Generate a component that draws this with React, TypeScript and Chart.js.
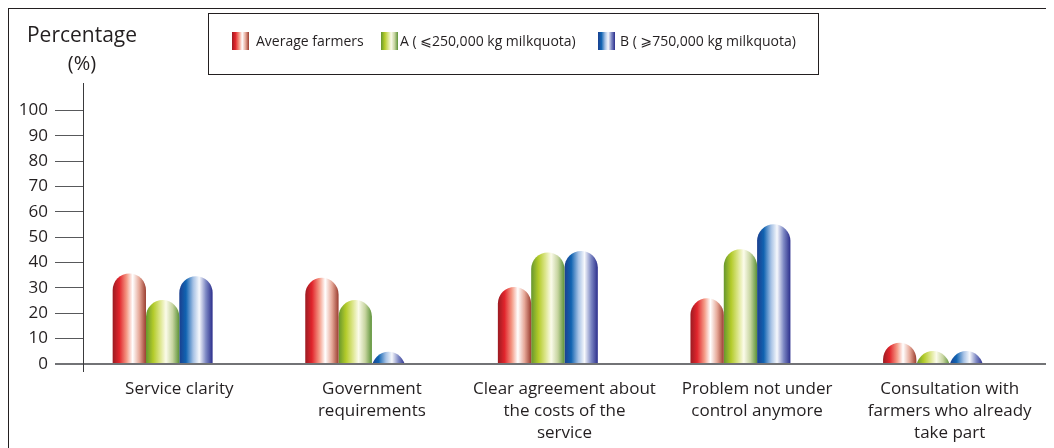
import React, { useEffect, useRef } from 'react';
import { Chart, registerables } from 'chart.js';

Chart.register(...registerables);

// ---- data ----
const categories: string[][] = [
  ['Service clarity'],
  ['Government', 'requirements'],
  ['Clear agreement about', 'the costs of the', 'service'],
  ['Problem not under', 'control anymore'],
  ['Consultation with', 'farmers who already', 'take part'],
];
const seriesNames = ['Average farmers', 'A ( ⩽250,000 kg milkquota)', 'B ( ⩾750,000 kg milkquota)'];
const averageFarmers = [35.7, 34.0, 30.4, 25.9, 8.4];
const groupA = [25.2, 25.2, 44.0, 45.2, 5.1];
const groupB = [34.6, 4.8, 44.6, 55.1, 5.1];
const yTicks = [0, 10, 20, 30, 40, 50, 60, 70, 80, 90, 100];
const yAxisTitle = ['Percentage', '(%)'];

// ---- styling ----
const FONT = '"Open Sans", "DejaVu Sans", sans-serif';
const INK = '#231f20';

type Stops = [number, string][];
const redShade: Stops = [
  [0, '#9b1b22'], [0.2, '#e1252c'], [0.42, '#f49a86'], [0.6, '#ffffff'], [0.8, '#e6a898'], [1, '#9a3d2f'],
];
const greenShade: Stops = [
  [0, '#66962e'], [0.22, '#b3cb2a'], [0.42, '#dbe589'], [0.6, '#fbfbea'], [0.8, '#c6d49f'], [1, '#5c9238'],
];
const blueShade: Stops = [
  [0, '#1b3f8f'], [0.2, '#1063b1'], [0.42, '#a7c2e5'], [0.6, '#f6f8fc'], [0.8, '#7c87c3'], [1, '#2b2e8c'],
];
const shades = [redShade, greenShade, blueShade];

function shadeFill(ctx: CanvasRenderingContext2D, left: number, width: number, stops: Stops) {
  const g = ctx.createLinearGradient(left, 0, left + width, 0);
  stops.forEach(([o, c]) => g.addColorStop(o, c));
  return g;
}

// Bars drawn as shaded cylinders with a round cap, using the element geometry from Chart.js.
const capsuleBars = {
  id: 'capsuleBars',
  beforeDatasetDraw(chart: any, args: any) {
    const stops = shades[args.index];
    if (!stops) return false;
    const ctx: CanvasRenderingContext2D = chart.ctx;
    for (const el of args.meta.data) {
      const { x, y, base, width } = el.getProps(['x', 'y', 'base', 'width'], true);
      if (!Number.isFinite(y) || !Number.isFinite(base)) continue;
      const L = x - width / 2;
      const R = x + width / 2;
      const r = width / 2;
      const top = Math.min(y, base);
      const shoulder = top + r;
      const foot = Math.max(base, shoulder);
      ctx.save();
      ctx.beginPath();
      ctx.rect(L - 1, top - 1, width + 2, base - top + 1);
      ctx.clip();
      ctx.beginPath();
      ctx.moveTo(L, foot);
      ctx.lineTo(L, shoulder);
      ctx.arc(x, shoulder, r, Math.PI, 0);
      ctx.lineTo(R, foot);
      ctx.closePath();
      ctx.fillStyle = shadeFill(ctx, L, width, stops);
      ctx.fill();
      ctx.restore();
    }
    return false;
  },
};

// Vertical axis line, axis title and the boxed legend.
const decorations = {
  id: 'decorations',
  afterDraw(chart: any) {
    const ctx: CanvasRenderingContext2D = chart.ctx;
    const area = chart.chartArea;
    ctx.save();

    // y axis line, running a little past the zero line
    ctx.strokeStyle = '#3a3a3c';
    ctx.lineWidth = 1;
    ctx.beginPath();
    ctx.moveTo(area.left + 0.5, area.top - 2);
    ctx.lineTo(area.left + 0.5, area.bottom + 8);
    ctx.stroke();

    // axis title
    ctx.fillStyle = INK;
    ctx.textAlign = 'center';
    ctx.textBaseline = 'alphabetic';
    ctx.font = `21px ${FONT}`;
    ctx.fillText(yAxisTitle[0], area.left - 1, 33);
    ctx.font = `20px ${FONT}`;
    ctx.fillText(yAxisTitle[1], area.left - 1, 61);

    // legend
    ctx.strokeStyle = INK;
    ctx.lineWidth = 1;
    ctx.strokeRect(199.5, 4.5, 610, 61);
    const swatchX = [223, 372, 589];
    const textX = [247, 391, 611];
    ctx.textAlign = 'left';
    ctx.font = `14px ${FONT}`;
    seriesNames.forEach((name, i) => {
      ctx.fillStyle = shadeFill(ctx, swatchX[i], 17, shades[i]);
      ctx.fillRect(swatchX[i], 23, 17, 18);
      ctx.fillStyle = INK;
      ctx.fillText(name, textX[i], 37);
    });
    ctx.restore();
  },
};

export default function App() {
  const canvasRef = useRef<HTMLCanvasElement | null>(null);

  useEffect(() => {
    const canvas = canvasRef.current;
    if (!canvas) return;
    const series = [averageFarmers, groupA, groupB];
    const chart = new Chart(canvas, {
      type: 'bar',
      data: {
        labels: categories,
        datasets: [
          ...series.map((values, i) => ({
            label: seriesNames[i],
            data: values,
            backgroundColor: shades[i][1][1],
          })),
          // empty slot to the right of each group
          { label: '', data: categories.map(() => null), backgroundColor: 'transparent' },
        ],
      },
      options: {
        responsive: false,
        animation: false,
        events: [],
        datasets: { bar: { barPercentage: 1, categoryPercentage: 0.692 } },
        layout: { padding: { top: 76, right: 8, left: 0, bottom: 0 } },
        plugins: {
          legend: { display: false },
          tooltip: { enabled: false },
          title: { display: false },
        },
        scales: {
          x: {
            grid: { display: false, drawTicks: false },
            border: { display: true, color: '#727376', width: 2 },
            ticks: {
              color: INK,
              font: { family: FONT, size: 17, lineHeight: 1.3 },
              padding: 14,
              maxRotation: 0,
              autoSkip: false,
            },
            afterFit: (s: any) => {
              s.height = 84;
            },
          },
          y: {
            min: 0,
            max: 110,
            afterBuildTicks: (s: any) => {
              s.ticks = yTicks.map((v) => ({ value: v }));
            },
            grid: {
              drawOnChartArea: false,
              tickLength: 28,
              color: (c: any) => (c.tick && c.tick.value === 0 ? '#727376' : '#58595b'),
              lineWidth: (c: any) => (c.tick && c.tick.value === 0 ? 2 : 1),
            },
            border: { display: false },
            ticks: { color: INK, font: { family: FONT, size: 17 }, padding: 7 },
            afterFit: (s: any) => {
              s.width = 74;
            },
          },
        },
      },
      plugins: [capsuleBars, decorations],
    } as any);
    return () => chart.destroy();
  }, []);

  return (
    <div
      style={{
        borderLeft: `2px solid ${INK}`,
        borderTop: `2px solid ${INK}`,
        margin: '-1px 0 0 -1px',
        width: 1045,
        height: 439,
      }}
    >
      <canvas ref={canvasRef} width={1045} height={439} style={{ display: 'block' }} />
    </div>
  );
}
